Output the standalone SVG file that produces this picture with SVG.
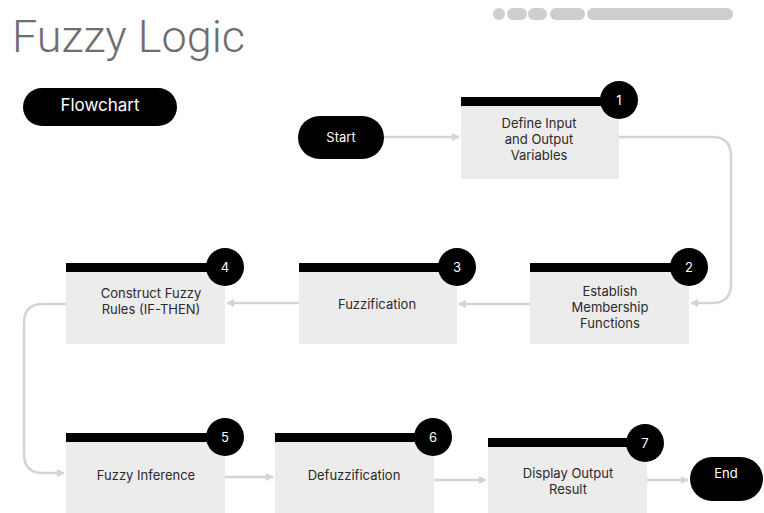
<svg xmlns="http://www.w3.org/2000/svg" width="764" height="513" viewBox="0 0 764 513">
<defs>
<style>
.bar{fill:#000}
.box{fill:#ececec}
.num{fill:#000}
.lbl{font-family:Inter,"Liberation Sans",sans-serif;font-size:13px;fill:#2a2a2a;text-anchor:middle}
.wl{font-family:Inter,"Liberation Sans",sans-serif;font-size:13px;fill:#fff;text-anchor:middle}
.pill{fill:#000}
.conn{fill:none;stroke:#d3d3d8;stroke-width:2.5}
.dot{fill:#cdcdd2}
</style>
<marker id="ah" viewBox="0 0 10 10" refX="9" refY="5" markerWidth="8" markerHeight="10" markerUnits="userSpaceOnUse" orient="auto">
<path d="M0,0 L10,5 L0,10 Z" fill="#d3d3d8"/>
</marker>
</defs>
<rect width="764" height="513" fill="#fff"/>
<text x="12" y="52" font-family="Roboto,'Liberation Sans',sans-serif" font-size="45" font-weight="300" fill="#6e6e6e">Fuzzy Logic</text>
<g id="progress">
<rect class="dot" x="493" y="8" width="12" height="12" rx="6"/>
<rect class="dot" x="507" y="8" width="20" height="12" rx="6"/>
<rect class="dot" x="528" y="8" width="19" height="12" rx="6"/>
<rect class="dot" x="550" y="8" width="35" height="12" rx="6"/>
<rect class="dot" x="587" y="8" width="146" height="12" rx="6"/>
</g>
<g id="flowchart-tag">
<rect class="pill" x="23" y="88" width="154" height="38" rx="19"/>
<text class="wl" x="100" y="111" style="font-size:17px">Flowchart</text>
</g>
<g id="connectors">
<path class="conn" d="M384,137 H459" marker-end="url(#ah)"/>
<path class="conn" d="M619,137 H712 Q731,137 731,156 V284 Q731,303 712,303 H691" marker-end="url(#ah)"/>
<path class="conn" d="M530,304 H459" marker-end="url(#ah)"/>
<path class="conn" d="M299,303 H227" marker-end="url(#ah)"/>
<path class="conn" d="M66,304 H43 Q24,304 24,323 V454 Q24,473 43,473 H64" marker-end="url(#ah)"/>
<path class="conn" d="M225,477 H273" marker-end="url(#ah)"/>
<path class="conn" d="M434,480 H486" marker-end="url(#ah)"/>
<path class="conn" d="M647,480 H688" marker-end="url(#ah)"/>
</g>
<g id="start">
<rect class="pill" x="298" y="116" width="86" height="43" rx="21.5"/>
<text class="wl" x="341" y="141.5">Start</text>
</g>
<g id="node1">
<rect class="box" x="461" y="106" width="158" height="73"/>
<rect class="bar" x="461" y="97" width="158" height="9"/>
<circle class="num" cx="619" cy="100" r="19"/>
<text class="wl" x="619" y="104.5">1</text>
<text class="lbl" x="539" y="127.5">Define Input</text>
<text class="lbl" x="539" y="143.5">and Output</text>
<text class="lbl" x="539" y="159.5">Variables</text>
</g>
<g id="node2">
<rect class="box" x="530" y="272" width="159" height="72"/>
<rect class="bar" x="530" y="263" width="159" height="9"/>
<circle class="num" cx="689" cy="267" r="19"/>
<text class="wl" x="689" y="271.5">2</text>
<text class="lbl" x="610" y="295.5">Establish</text>
<text class="lbl" x="610" y="311.5">Membership</text>
<text class="lbl" x="610" y="327.5">Functions</text>
</g>
<g id="node3">
<rect class="box" x="299" y="272" width="158" height="72"/>
<rect class="bar" x="299" y="263" width="158" height="9"/>
<circle class="num" cx="457" cy="267" r="19"/>
<text class="wl" x="457" y="271.5">3</text>
<text class="lbl" x="377" y="308.5">Fuzzification</text>
</g>
<g id="node4">
<rect class="box" x="66" y="272" width="159" height="72"/>
<rect class="bar" x="66" y="263" width="159" height="9"/>
<circle class="num" cx="225" cy="267" r="19"/>
<text class="wl" x="225" y="271.5">4</text>
<text class="lbl" x="151" y="298">Construct Fuzzy</text>
<text class="lbl" x="151" y="314">Rules (IF-THEN)</text>
</g>
<g id="node5">
<rect class="box" x="66" y="442" width="159" height="71"/>
<rect class="bar" x="66" y="433" width="159" height="9"/>
<circle class="num" cx="225" cy="437" r="19"/>
<text class="wl" x="225" y="441.5">5</text>
<text class="lbl" x="146" y="479.5">Fuzzy Inference</text>
</g>
<g id="node6">
<rect class="box" x="275" y="442" width="159" height="71"/>
<rect class="bar" x="275" y="433" width="159" height="9"/>
<circle class="num" cx="433" cy="437" r="19"/>
<text class="wl" x="433" y="441.5">6</text>
<text class="lbl" x="354" y="479.5">Defuzzification</text>
</g>
<g id="node7">
<rect class="box" x="488" y="447" width="159" height="66"/>
<rect class="bar" x="488" y="438" width="159" height="9"/>
<circle class="num" cx="645" cy="443" r="19"/>
<text class="wl" x="645" y="447.5">7</text>
<text class="lbl" x="568" y="478">Display Output</text>
<text class="lbl" x="568" y="494">Result</text>
</g>
<g id="end">
<rect class="pill" x="690" y="457" width="73" height="44" rx="22"/>
<text class="wl" x="726" y="478">End</text>
</g>
</svg>
